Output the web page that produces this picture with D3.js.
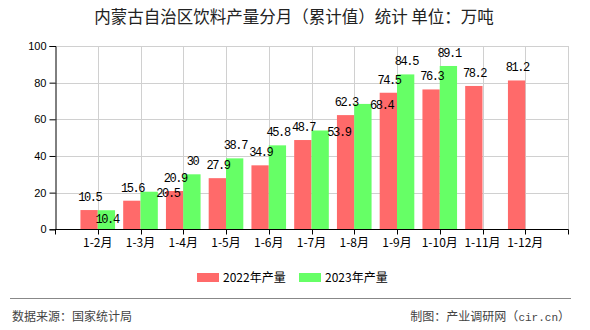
<!DOCTYPE html>
<html><head><meta charset="utf-8">
<script src="https://cdn.jsdelivr.net/npm/d3@7"></script>
<style>
html,body{margin:0;padding:0;background:#fff;}
svg{display:block;}
</style></head>
<body>
<script>
const categories = ["1-2月","1-3月","1-4月","1-5月","1-6月","1-7月","1-8月","1-9月","1-10月","1-11月","1-12月"];
const series2022 = [10.5,15.6,20.9,27.9,34.9,48.7,62.3,74.5,76.3,78.2,81.2];
const series2023 = [10.4,20.5,30,38.7,45.8,53.9,68.4,84.5,89.1];
const seriesNames = ["2022年产量","2023年产量"];
const yTicks = [0,20,40,60,80,100];
const titleText = "内蒙古自治区饮料产量分月（累计值）统计 单位：万吨";
const sourceText = "数据来源：国家统计局";
const creditPrefix = "制图：产业调研网（";
const creditSite = "cir.cn";
const creditSuffix = "）";
// label placement for 2023 series (avoiding overlaps as in original)
const label2023Placement = ["inside","right","above","above","above","right","right","above","above"];

const W = 590, H = 330;
const colors = ["#ff6a6a", "#66ff66"];
const cjk = "'Noto Sans CJK SC','Noto Sans',sans-serif";
const mono = "'Liberation Mono','DejaVu Sans Mono',monospace";

const svg = d3.select("body").append("svg").attr("width", W).attr("height", H);

const x0 = 55, x1 = 568, yTop = 46, yBot = 229.3;
const step = (x1 - x0) / 12;
const x = d3.scalePoint().domain(categories).range([x0 + step, x1 - step]);
const y = d3.scaleLinear().domain([0, 100]).range([yBot, yTop]);
const bw = step * 0.405;

// title
svg.append("text").attr("x", 294).attr("y", 23).attr("text-anchor", "middle")
  .style("font-family", cjk).style("font-size", "16.5px").attr("fill", "#222")
  .text(titleText);

// grid
const g = svg.append("g");
g.selectAll("line.hg").data(yTicks.slice(1)).enter().append("line")
  .attr("x1", x0).attr("x2", x1).attr("y1", d => Math.round(y(d)) + 0.5).attr("y2", d => Math.round(y(d)) + 0.5)
  .attr("stroke", "#d0d0d0").attr("stroke-width", 1);
const vPos = categories.map(c => x(c)).concat([x1]);
g.selectAll("line.vg").data(vPos).enter().append("line")
  .attr("x1", d => Math.round(d) + 0.5).attr("x2", d => Math.round(d) + 0.5)
  .attr("y1", yTop).attr("y2", yBot)
  .attr("stroke", "#d0d0d0").attr("stroke-width", 1);

// bars
const bars = svg.append("g");
bars.selectAll("rect.s1").data(series2022).enter().append("rect")
  .attr("x", (d, i) => x(categories[i]) - bw).attr("width", bw)
  .attr("y", d => y(d)).attr("height", d => yBot - y(d)).attr("fill", colors[0]);
bars.selectAll("rect.s2").data(series2023).enter().append("rect")
  .attr("x", (d, i) => x(categories[i])).attr("width", bw)
  .attr("y", d => y(d)).attr("height", d => yBot - y(d)).attr("fill", colors[1]);

// y axis
const yAxis = d3.axisLeft(y).tickValues(yTicks).tickSize(6).tickPadding(3);
const ya = svg.append("g").attr("transform", `translate(${x0 + 0.5},0)`).call(yAxis);
ya.select(".domain").attr("stroke", "#000");
ya.selectAll(".tick line").attr("stroke", "#000");
ya.selectAll("text").style("font-family", "'Liberation Sans',Arial,sans-serif").style("font-size", "11px").attr("fill", "#000");

// x axis
const xa = svg.append("g").attr("transform", `translate(0,${Math.round(yBot) + 0.5})`);
xa.append("line").attr("x1", x0).attr("x2", x1 + 0.5).attr("stroke", "#000");
xa.selectAll("line.t").data([x0].concat(vPos)).enter().append("line")
  .attr("x1", d => Math.round(d) + 0.5).attr("x2", d => Math.round(d) + 0.5)
  .attr("y1", 0).attr("y2", 5).attr("stroke", "#000");
xa.selectAll("text").data(categories).enter().append("text")
  .attr("x", d => x(d)).attr("y", 17).attr("text-anchor", "middle")
  .style("font-family", cjk).style("font-size", "12px").attr("fill", "#000")
  .text(d => d);

// data labels
const lbl = svg.append("g").style("font-family", mono).style("font-size", "12px")
  .style("letter-spacing", "-1.4px").attr("fill", "#000");
lbl.selectAll("text.l1").data(series2022).enter().append("text")
  .attr("x", (d, i) => x(categories[i]) - bw / 2 + 0.7).attr("y", d => y(d) - 9)
  .attr("text-anchor", "middle").text(d => d);
lbl.selectAll("text.l2").data(series2023).enter().append("text")
  .attr("x", (d, i) => {
    const p = label2023Placement[i];
    if (p === "right") return x(categories[i]) + bw - 1.5;
    return x(categories[i]) + bw / 2 + 0.7;
  })
  .attr("y", (d, i) => {
    const p = label2023Placement[i];
    if (p === "inside") return y(d) + 12.5;
    if (p === "right") return y(d) + 5;
    return y(d) - 9;
  })
  .attr("text-anchor", (d, i) => label2023Placement[i] === "right" ? "start" : "middle")
  .text(d => d);

// legend
const leg = svg.append("g");
const legX = [197, 299];
seriesNames.forEach((n, i) => {
  leg.append("rect").attr("x", legX[i]).attr("y", 273).attr("width", 22).attr("height", 9).attr("fill", colors[i]);
  leg.append("text").attr("x", legX[i] + 26).attr("y", 281.5)
    .style("font-family", cjk).style("font-size", "12px").attr("fill", "#000").text(n);
});

// footer
svg.append("line").attr("x1", 10).attr("x2", 571).attr("y1", 298.5).attr("y2", 298.5)
  .attr("stroke", "#888").attr("stroke-width", 1);
svg.append("text").attr("x", 12).attr("y", 320.5)
  .style("font-family", cjk).style("font-size", "12px").attr("fill", "#444").text(sourceText);
const credit = svg.append("text").attr("x", 570).attr("y", 320.5).attr("text-anchor", "end")
  .style("font-family", cjk).style("font-size", "12px").attr("fill", "#444");
credit.append("tspan").text(creditPrefix);
credit.append("tspan").style("font-family", mono).style("font-size", "11px").text(creditSite);
credit.append("tspan").text(creditSuffix);
</script>
</body></html>
